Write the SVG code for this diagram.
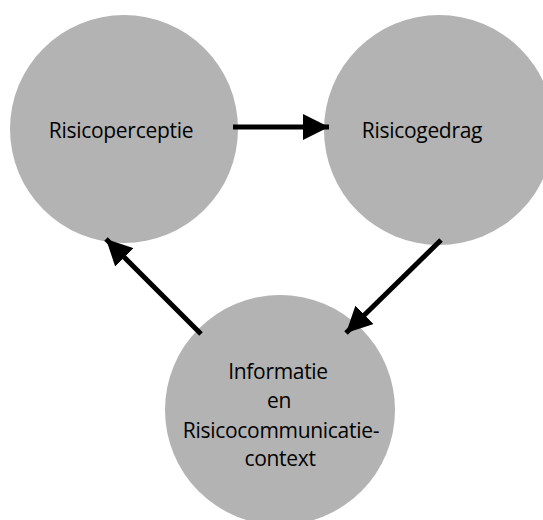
<svg xmlns="http://www.w3.org/2000/svg" width="543" height="520" viewBox="0 0 543 520">
<style>
.node{fill:#b3b3b3}
.lbl{font-family:"Open Sans","Noto Sans","DejaVu Sans",sans-serif;font-size:21px;fill:#000;text-anchor:middle;letter-spacing:-0.3px}
.edge{stroke:#000;stroke-width:5;fill:none}
</style>
<defs>
<marker id="ah" markerUnits="userSpaceOnUse" markerWidth="26" markerHeight="26" refX="26" refY="13" orient="auto">
<path d="M0,0 L26,13 L0,26 Z" fill="#000"/>
</marker>
</defs>
<g id="risicoperceptie">
<circle class="node" cx="124" cy="129" r="114"/>
<text class="lbl" x="121" y="138">Risicoperceptie</text>
</g>
<g id="risicogedrag">
<circle class="node" cx="439" cy="130" r="115"/>
<text class="lbl" x="422" y="138">Risicogedrag</text>
</g>
<g id="informatie">
<circle class="node" cx="280" cy="410" r="115"/>
<text class="lbl" x="278" y="379">Informatie</text>
<text class="lbl" x="279" y="408">en</text>
<text class="lbl" x="281" y="438">Risicocommunicatie-</text>
<text class="lbl" x="280" y="466">context</text>
</g>
<g id="connectors">
<line class="edge" x1="233" y1="127" x2="329" y2="127" marker-end="url(#ah)"/>
<line class="edge" x1="441" y1="240" x2="346" y2="333" marker-end="url(#ah)"/>
<line class="edge" x1="201" y1="334" x2="106" y2="239" marker-end="url(#ah)"/>
</g>
</svg>
